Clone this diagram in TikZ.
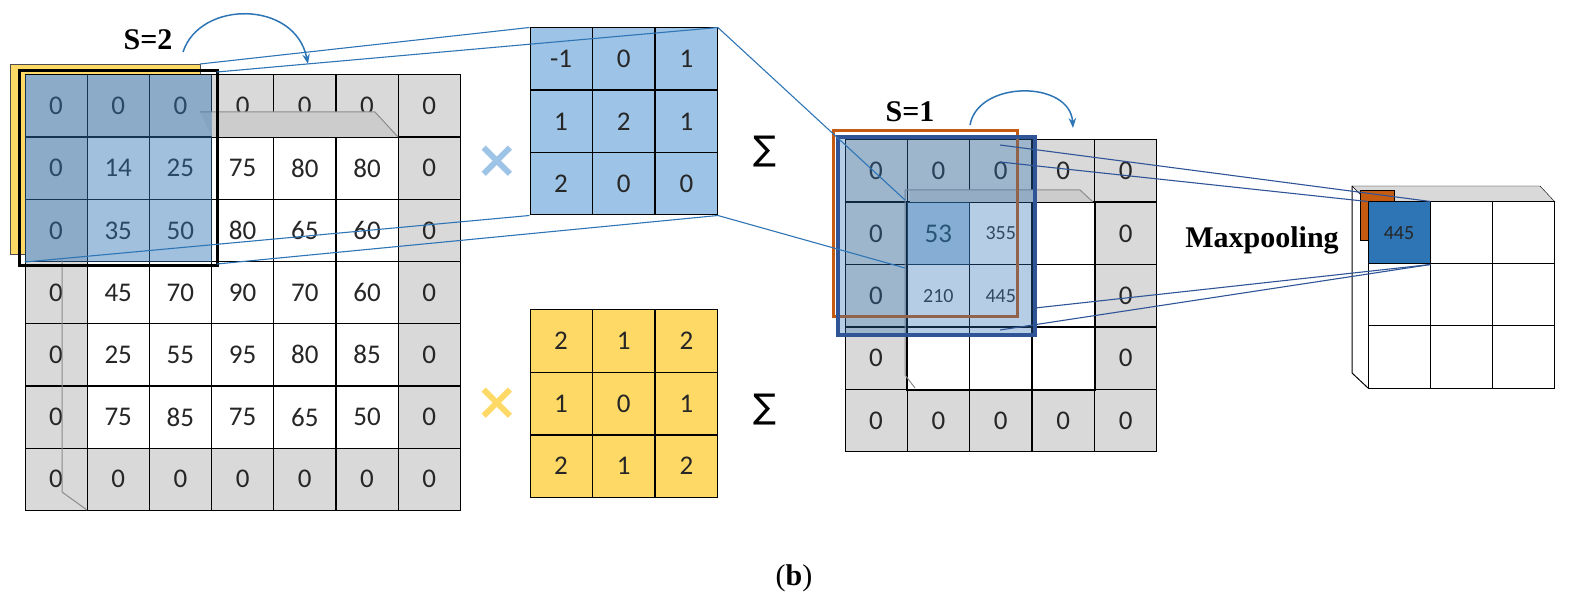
\documentclass[tikz,border=0pt]{standalone}
\usepackage{fontspec}
\setmainfont{Liberation Serif}
\newfontfamily\calfont{Carlito}
\newfontfamily\djv{DejaVu Sans}
\usetikzlibrary{arrows.meta}
\definecolor{kb}{HTML}{9DC3E6}
\definecolor{ky}{HTML}{FFD966}
\definecolor{gr}{HTML}{D9D9D9}
\definecolor{ln}{HTML}{2E75B6}
\definecolor{dk}{HTML}{2F5597}
\definecolor{or}{HTML}{C55A11}
\tikzset{
 cell/.style={draw=black,line width=1pt,minimum size=62pt,inner sep=0pt,font=\calfont\fontsize{27}{29}\selectfont,text=black!85},
 zc/.style={cell,fill=gr}, wc/.style={cell,fill=white},
 bc/.style={cell,fill=kb}, yc/.style={cell,fill=ky},
 conn/.style={ln,line width=1.1pt},
 lbl/.style={font=\bfseries\fontsize{30}{32}\selectfont},
 sig/.style={font=\djv\fontsize{34}{36}\selectfont},
 small/.style={font=\calfont\fontsize{20}{22}\selectfont,text=black!80}
}
\begin{document}
\begin{tikzpicture}[x=1pt,y=-1pt]
\useasboundingbox (0,0) rectangle (1588,612);
% yellow behind
\fill[ky,draw=black!70] (10,64) rectangle (200,254);
% left grid
\foreach \r/\vals in {0/{0,0,0,0,0,0,0},1/{0,14,25,75,80,80,0},2/{0,35,50,80,65,60,0},3/{0,45,70,90,70,60,0},4/{0,25,55,95,80,85,0},5/{0,75,85,75,65,50,0},6/{0,0,0,0,0,0,0}}{
 \foreach \v [count=\c from 0] in \vals {
  \pgfmathsetmacro{\isz}{(\r==0||\r==6||\c==0||\c==6)?1:0}
  \ifdim\isz pt>0.5pt
   \node[zc] (L\r\c) at ({56+62.2*\c},{106+62.2*\r}) {\v};
  \else
   \node[wc] (L\r\c) at ({56+62.2*\c},{106+62.2*\r}) {\v};
  \fi
 }}
\fill[black!20] (200,112) -- (375,112) -- (398,137) -- (212,137) -- cycle;
\draw[black!45,line width=1pt] (200,112) -- (375,112) -- (398,137);
\draw[black!45,line width=1pt] (62,260) -- (62,492) -- (87,510);
% blue window
\fill[ln,opacity=0.45] (25,75) rectangle (212,262);
\draw[black,line width=3pt] (19,71) rectangle (217,266);
\coordinate (w1) at (200,64); \coordinate (w2) at (217,72);
\coordinate (w3) at (25,262); \coordinate (w4) at (217,264);
\node[lbl] (s2) at (148,40) {S=2};
\coordinate (a1) at (183,52); \coordinate (a2) at (308,64);
\draw[ln,line width=1.5pt,-{Stealth[length=10pt]}] (a1) .. controls (200,0) and (295,0) .. (a2);
% kernels
\foreach \r/\vals in {0/{-1,0,1},1/{1,2,1},2/{2,0,0}}{
 \foreach \v [count=\c from 0] in \vals {\node[bc] (K\r\c) at ({561+62.7*\c},{59+62.5*\r}) {\v};}}
\foreach \r/\vals in {0/{2,1,2},1/{1,0,1},2/{2,1,2}}{
 \foreach \v [count=\c from 0] in \vals {\node[yc] (Y\r\c) at ({561+62.7*\c},{341+62.5*\r}) {\v};}}
\node[text=kb,font=\djv\bfseries\fontsize{52}{52}\selectfont] (x1) at (497,162) {×};
\node[text=ky,font=\djv\bfseries\fontsize{52}{52}\selectfont] (x2) at (497,404) {×};
\node[sig] (g1) at (765,152) {∑};
\node[sig] (g2) at (765,410) {∑};
% middle grid
\foreach \r/\vals in {0/{0,0,0,0,0},1/{0,53,,,0},2/{0,,,,0},3/{0,,,,0},4/{0,0,0,0,0}}{
 \foreach \v [count=\c from 0] in \vals {
  \pgfmathsetmacro{\isz}{(\r==0||\r==4||\c==0||\c==4)?1:0}
  \ifdim\isz pt>0.5pt
   \node[zc] (M\r\c) at ({876+62.4*\c},{171+62.4*\r}) {\v};
  \else
   \node[wc] (M\r\c) at ({876+62.4*\c},{171+62.4*\r}) {\v};
  \fi
 }}
\node[small] at (M12) {355};
\node[small] at (M21) {210};
\node[small] at (M22) {445};
\draw[black,line width=2pt] (907,202) rectangle (1095,390);
\fill[black!20] (910,190) -- (1080,190) -- (1093,202) -- (910,202) -- cycle;
\draw[black!45,line width=1pt] (905,190) -- (1080,190) -- (1093,202);
\draw[black!45,line width=1pt] (905,190) -- (905,375) -- (915,388);
\fill[ln,opacity=0.35] (907,202) rectangle (970,265);
\draw[or,line width=3pt] (833,131) rectangle (1017,317);
\fill[ln,opacity=0.35] (840,139) rectangle (1034,334);
\draw[dk,line width=3.5pt] (838,137) rectangle (1035,335);
\node[lbl] (s1) at (910,112) {S=1};
\draw[ln,line width=1.5pt,-{Stealth[length=10pt]}] (970,125) .. controls (978,80) and (1070,80) .. (1073,128);
% right grid
\fill[gr,draw=black] (1352,186) -- (1540,186) -- (1555,202) -- (1368,202) -- cycle;
\draw[black,line width=1pt] (1352,186) -- (1352,373) -- (1368,388);
\foreach \r in {0,1,2}{\foreach \c in {0,1,2}{\node[wc] (R\r\c) at ({1399+62*\c},{233+62*\r}) {};}}
\fill[or,draw=black] (1360,190) rectangle (1394,240);
\node[cell,fill=ln,font=\calfont\fontsize{20}{22}\selectfont] (P) at (1399,233) {445};
\node[lbl] (mp) at (1262,240) {Maxpooling};
% connectors
\coordinate (m1) at (905,200); \coordinate (m2) at (905,268);
\coordinate (m3) at (1000,145); \coordinate (m4) at (1000,162);
\coordinate (m5) at (1035,308); \coordinate (m6) at (1000,330);
\draw[conn] (w1) -- (K00.north west);
\draw[conn] (w2) -- (K02.north east);
\draw[conn] (w3) -- (K20.south west);
\draw[conn] (w4) -- (K22.south east);
\draw[conn] (K02.north east) -- (m1);
\draw[conn] (K22.south east) -- (m2);
\draw[dk,line width=1.1pt] (m3) -- (P.north east);
\draw[dk,line width=1.1pt] (m4) -- (P.north west);
\draw[dk,line width=1.1pt] (m5) -- (P.south east);
\draw[dk,line width=1.1pt] (m6) -- (P.south east);
\node[font=\fontsize{30}{32}\selectfont] (cap) at (794,578) {(\textbf{b})};
\end{tikzpicture}
\end{document}
